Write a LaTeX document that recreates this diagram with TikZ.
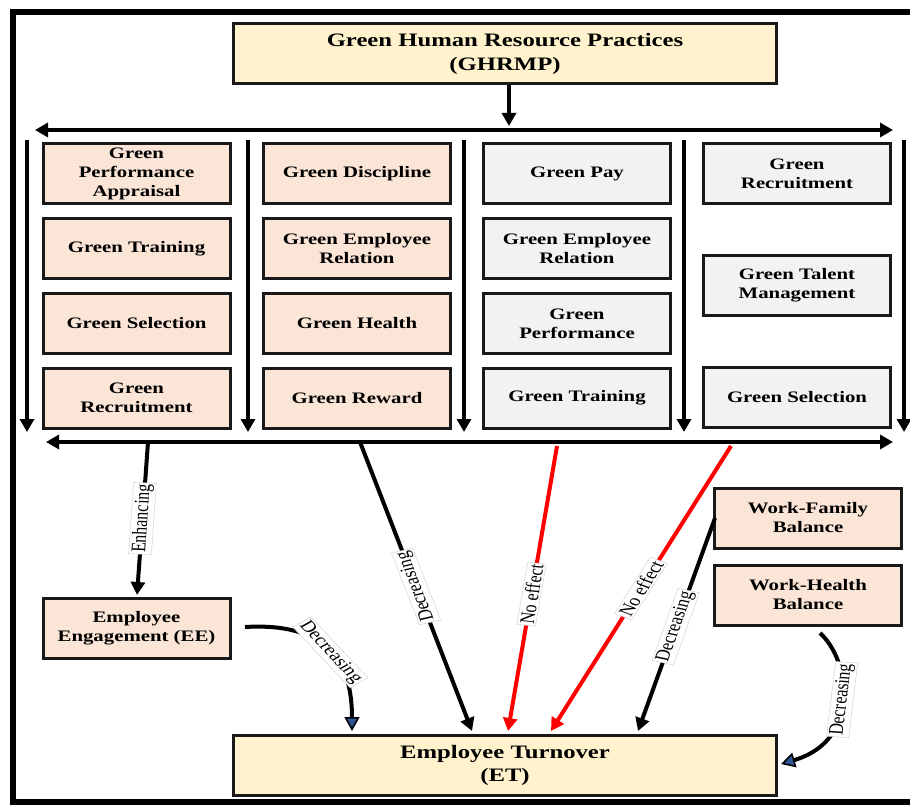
\documentclass[tikz,border=0pt]{standalone}
\usepackage{fontspec}
\setmainfont{Liberation Serif}
\newfontfamily\boxfont[FakeStretch=1.3]{Liberation Serif}
\usetikzlibrary{arrows.meta}
\definecolor{titlefill}{RGB}{255,242,204}
\definecolor{peach}{RGB}{251,229,214}
\definecolor{lgray}{RGB}{242,242,242}
\definecolor{arrowblue}{RGB}{47,85,151}
\tikzset{
  box/.style={draw=black!90, line width=3pt, minimum width=187pt, minimum height=60pt,
    inner sep=0pt, align=center, font=\boxfont\bfseries\fontsize{16}{19}\selectfont},
  pbox/.style={box, fill=peach},
  gbox/.style={box, fill=lgray},
  bigbox/.style={draw=black!90, line width=3pt, fill=titlefill, minimum width=543pt,
    minimum height=60pt, inner sep=0pt, align=center,
    font=\boxfont\bfseries\fontsize{19}{24}\selectfont},
  conn/.style={line width=4pt, -{Triangle[length=13pt,width=14pt]}},
  dbl/.style={line width=4pt, {Triangle[length=13pt,width=14pt]}-{Triangle[length=13pt,width=14pt]}},
  redconn/.style={conn, draw=red},
  blueconn/.style={line width=4pt, -{Triangle[length=14pt,width=15pt,line width=1.5pt,fill=arrowblue]}},
  lbl/.style={fill=white, draw=gray!40, line width=0.4pt, inner sep=1.5pt,
    font=\fontsize{16}{17}\selectfont, xscale=1.3},
}
\begin{document}
\begin{tikzpicture}[x=1pt,y=1pt]
\useasboundingbox (0,0) rectangle (910,-805);
\fill[white] (0,0) rectangle (910,-805);
% outer frame
\draw[line width=6pt] (912,-11.7) -- (12.7,-11.7) -- (12.7,-802) -- (912,-802);

% title
\node[bigbox] (title) at (505,-53.5) {Green Human Resource Practices\\(GHRMP)};

% column 1
\node[pbox] (c1a) at (136.5,-173.5) {Green\\Performance\\Appraisal};
\node[pbox] (c1b) at (136.5,-248.5) {Green Training};
\node[pbox] (c1c) at (136.5,-323.5) {Green Selection};
\node[pbox] (c1d) at (136.5,-398) {Green\\Recruitment};
% column 2
\node[pbox] (c2a) at (357,-173.5) {Green Discipline};
\node[pbox] (c2b) at (357,-248.5) {Green Employee\\Relation};
\node[pbox] (c2c) at (357,-323.5) {Green Health};
\node[pbox] (c2d) at (357,-398) {Green Reward};
% column 3
\node[gbox] (c3a) at (577,-173.5) {Green Pay};
\node[gbox] (c3b) at (577,-248.5) {Green Employee\\Relation};
\node[gbox] (c3c) at (577,-323.5) {Green\\Performance};
\node[gbox] (c3d) at (577,-398) {Green Training};
% column 4
\node[gbox] (c4a) at (797,-173.5) {Green\\Recruitment};
\node[gbox] (c4b) at (797,-285) {Green Talent\\Management};
\node[gbox] (c4c) at (797,-397.5) {Green Selection};

% lower boxes
\node[pbox] (ee) at (136.5,-628.5) {Employee\\Engagement (EE)};
\node[pbox] (wf) at (808,-518) {Work-Family\\Balance};
\node[pbox] (wh) at (808,-595) {Work-Health\\Balance};
\node[bigbox, font=\boxfont\bfseries\fontsize{19}{23}\selectfont] (et) at (505,-765) {Employee Turnover\\(ET)};

% coordinates
\coordinate (topIn) at (509,-126);
\coordinate (topL) at (35,-130);
\coordinate (topR) at (893,-130);
\coordinate (botL) at (46,-442);
\coordinate (botR) at (893,-442);
\foreach \i/\x in {1/27,2/248,3/464,4/684,5/904}{
  \coordinate (v\i s) at (\x,-140);
  \coordinate (v\i e) at (\x,-432);
}
\coordinate (sEnh) at (148,-442);
\coordinate (tEnh) at (137,-595);
\coordinate (sDec) at (360,-442);
\coordinate (tDec) at (472,-731);
\coordinate (sNoA) at (557,-446);
\coordinate (tNoA) at (508,-731);
\coordinate (sNoB) at (731,-446);
\coordinate (tNoB) at (551,-731);
\coordinate (sWF) at ([xshift=2pt]wf.west);
\coordinate (tWF) at (638,-731);
\coordinate (sEE) at (245,-627);
\coordinate (tEE) at (352,-731);
\coordinate (sWH) at (820,-633);
\coordinate (tWH) at (781,-764);

% structure arrows
\draw[conn] ([xshift=4pt]title.south) -- (topIn);
\draw[dbl] (topL) -- (topR);
\draw[dbl] (botL) -- (botR);
\foreach \i in {1,...,5}{\draw[conn] (v\i s) -- (v\i e);}

% relations
\draw[conn] (sEnh) -- node[lbl, rotate=86.9] {Enhancing} (tEnh);
\draw[conn] (sDec) -- node[lbl, rotate=106.6] {Decreasing} (tDec);
\draw[redconn] (sNoA) -- node[lbl, pos=0.52, rotate=82.5] {No effect} (tNoA);
\draw[redconn] (sNoB) -- node[lbl, rotate=64.1] {No effect} (tNoB);
\draw[conn] (sWF) -- node[lbl, pos=0.51, rotate=74.5] {Decreasing} (tWF);
\draw[blueconn] (sEE) .. controls (330,-622) and (352,-665) .. node[lbl, rotate=-54] {Decreasing} (tEE);
\draw[blueconn] (sWH) .. controls (850,-660) and (862,-740) .. node[lbl, rotate=84.6] {Decreasing} (tWH);
\end{tikzpicture}
\end{document}
